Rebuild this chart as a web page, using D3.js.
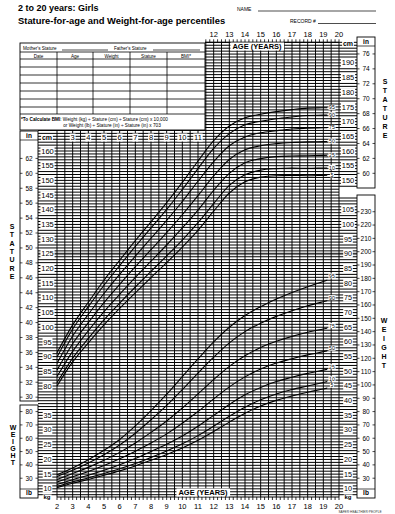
<!DOCTYPE html>
<html>
<head>
<meta charset="utf-8">
<script src="https://cdn.jsdelivr.net/npm/d3@7"></script>
<style>
  body { margin: 0; background: #fff; }
  svg { display: block; font-family: "Liberation Sans", Arial, sans-serif; }
</style>
</head>
<body>
<div id="chart"></div>
<script>
// ages (years) for the percentile curves
const ages = [2, 3, 4, 5, 6, 7, 8, 9, 10, 11, 12, 13, 14, 15, 16, 17, 18, 19, 20];
const percentiles = ['5', '10', '25', '50', '75', '90', '95'];

// stature-for-age (cm)
const stature5  = [80.0, 88.2, 94.7, 100.8, 106.4, 111.7, 116.9, 122.0, 127.3, 133.0, 139.5, 145.7, 149.5, 151.1, 151.6, 151.7, 151.6, 151.7, 151.8];
const stature10 = [81.1, 89.5, 96.2, 102.5, 108.2, 113.7, 119.0, 124.3, 129.7, 135.6, 142.1, 148.3, 151.9, 153.5, 154.0, 154.2, 154.1, 154.2, 154.3];
const stature25 = [83.2, 91.8, 98.8, 105.3, 111.2, 117.0, 122.5, 128.0, 133.8, 139.9, 146.6, 152.4, 156.0, 157.4, 158.1, 158.3, 158.4, 158.5, 158.6];
const stature50 = [85.4, 94.4, 101.6, 108.4, 114.6, 120.6, 126.4, 132.2, 138.3, 144.8, 151.5, 157.1, 160.4, 161.8, 162.5, 162.9, 163.1, 163.2, 163.3];
const stature75 = [87.7, 97.0, 104.4, 111.5, 118.0, 124.2, 130.3, 136.4, 142.8, 149.7, 156.4, 161.8, 164.8, 166.2, 166.9, 167.5, 167.8, 167.9, 168.0];
const stature90 = [89.9, 99.4, 107.0, 114.3, 121.0, 127.5, 133.8, 140.1, 146.9, 154.0, 160.9, 165.9, 168.9, 170.1, 171.0, 171.6, 172.1, 172.2, 172.3];
const stature95 = [91.3, 100.8, 108.5, 116.0, 122.8, 129.5, 135.9, 142.4, 149.3, 156.6, 163.5, 168.5, 171.3, 172.5, 173.4, 174.1, 174.6, 174.7, 174.8];

// weight-for-age (kg)
const weight5  = [10.4, 11.9, 13.2, 14.6, 16.1, 17.8, 19.7, 21.7, 23.9, 26.5, 29.5, 32.7, 35.7, 38.2, 40.1, 41.6, 42.9, 44.0, 45.2];
const weight10 = [10.8, 12.4, 13.7, 15.2, 16.8, 18.6, 20.7, 22.9, 25.3, 28.1, 31.3, 34.7, 37.8, 40.3, 42.3, 43.8, 45.0, 46.2, 47.4];
const weight25 = [11.5, 13.1, 14.6, 16.3, 18.2, 20.3, 22.7, 25.2, 28.0, 31.3, 35.0, 38.7, 42.0, 44.5, 46.5, 48.0, 49.3, 50.4, 51.5];
const weight50 = [12.3, 14.1, 15.9, 17.9, 20.2, 22.8, 25.6, 28.7, 32.3, 36.3, 40.6, 44.7, 48.1, 50.8, 52.8, 54.3, 55.6, 56.7, 57.8];
const weight75 = [13.2, 15.2, 17.3, 19.7, 22.4, 25.6, 29.2, 33.1, 37.5, 42.3, 47.2, 51.7, 55.3, 58.1, 60.2, 61.9, 63.3, 64.4, 65.5];
const weight90 = [14.2, 16.3, 18.8, 21.6, 24.9, 28.9, 33.5, 38.4, 43.8, 49.4, 54.8, 59.7, 63.5, 66.4, 68.7, 70.6, 72.3, 73.7, 75.0];
const weight95 = [14.8, 17.1, 19.9, 23.1, 26.8, 31.4, 36.6, 42.2, 48.2, 54.2, 60.0, 65.0, 69.0, 72.0, 74.6, 76.8, 78.8, 80.6, 82.4];

// tick labels
const topAgeLabels = [12, 13, 14, 15, 16, 17, 18, 19, 20];
const innerAgeLabels = [3, 4, 5, 6, 7, 8, 9, 10, 11];
const bottomAgeLabels = [2, 3, 4, 5, 6, 7, 8, 9, 10, 11, 12, 13, 14, 15, 16, 17, 18, 19, 20];
const leftCm = [160, 155, 150, 145, 140, 135, 130, 125, 120, 115, 110, 105, 100, 95, 90, 85, 80];
const rightCm = [190, 185, 180, 175, 170, 165, 160, 155, 150];
const leftKg = [35, 30, 25, 20, 15, 10];
const rightKg = [105, 100, 95, 90, 85, 80, 75, 70, 65, 60, 55, 50, 45, 40, 35, 30, 25, 20, 15, 10];
const leftIn = [62, 60, 58, 56, 54, 52, 50, 48, 46, 44, 42, 40, 38, 36, 34, 32, 30];
const rightIn = [76, 74, 72, 70, 68, 66, 64, 62, 60];
const leftLb = [80, 70, 60, 50, 40, 30];
const rightLb = [230, 220, 210, 200, 190, 180, 170, 160, 150, 140, 130, 120, 110, 100, 90, 80, 70, 60, 50, 40, 30];
const tableColumns = ['Date', 'Age', 'Weight', 'Stature', 'BMI*'];

const width = 395, height = 514;
const svg = d3.select('#chart').append('svg')
    .attr('width', width)
    .attr('height', height);

svg.append('rect').attr('width', width).attr('height', height).attr('fill', '#fff');

// age -> x, stature cm -> y ; weight axis is the same scale shifted by 35
const x = d3.scaleLinear().domain([2, 20]).range([57, 339]);
const y = d3.scaleLinear().domain([80, 160]).range([386, 151]);
const yKg = kg => y(kg + 35);

const gridTop = y(197);
const gridBottom = 497;
const tableRight = 205, tableBottom = 130;

const grid = svg.append('g');

// gray band at 125 cm / 90 kg
grid.append('line')
    .attr('x1', 38).attr('x2', 357)
    .attr('y1', y(125)).attr('y2', y(125))
    .attr('stroke', '#bdbdbd').attr('stroke-width', 3);

// horizontal lines every cm
d3.range(43, 198).forEach(s => {
    const yy = y(s);
    if (yy > gridBottom + 0.5) return;
    const x1 = yy < tableBottom ? tableRight : 38;
    const x2 = (yy > 189 && yy < 196) ? 339 : 357;
    grid.append('line')
        .attr('x1', x1).attr('x2', x2)
        .attr('y1', yy).attr('y2', yy)
        .attr('stroke', '#000').attr('stroke-width', 1);
});

// vertical lines every half year
d3.range(2, 20.01, 0.5).forEach(a => {
    const xx = x(a);
    grid.append('line')
        .attr('x1', xx).attr('x2', xx)
        .attr('y1', xx < tableRight ? tableBottom : gridTop).attr('y2', gridBottom)
        .attr('stroke', '#000').attr('stroke-width', 0.95);
});

// quarter-year ticks on top and bottom edges
d3.range(2, 20.01, 0.25).forEach(a => {
    const xx = x(a);
    if (xx > tableRight) {
        grid.append('line').attr('x1', xx).attr('x2', xx)
            .attr('y1', gridTop - 3).attr('y2', gridTop)
            .attr('stroke', '#000').attr('stroke-width', 0.8);
    }
    grid.append('line').attr('x1', xx).attr('x2', xx)
        .attr('y1', gridBottom).attr('y2', gridBottom + 3)
        .attr('stroke', '#000').attr('stroke-width', 0.8);
});

grid.append('line').attr('x1', 57).attr('x2', 339).attr('y1', gridBottom).attr('y2', gridBottom)
    .attr('stroke', '#000').attr('stroke-width', 1);
grid.append('line').attr('x1', tableRight).attr('x2', 339).attr('y1', gridTop).attr('y2', gridTop)
    .attr('stroke', '#000').attr('stroke-width', 1);

// text with white box behind it
function boxedText(g, tx, ty, str, size, opts = {}) {
    const t = g.append('text')
        .attr('x', tx).attr('y', ty)
        .attr('text-anchor', opts.anchor || 'middle')
        .attr('font-size', size)
        .attr('font-weight', opts.bold ? 'bold' : 'normal')
        .attr('fill', '#000')
        .text(str);
    const b = t.node().getBBox();
    const pad = opts.pad == null ? 0.8 : opts.pad;
    g.insert('rect', () => t.node())
        .attr('x', b.x - pad).attr('y', b.y + 0.5)
        .attr('width', b.width + pad * 2).attr('height', b.height - 1)
        .attr('fill', '#fff');
    return t;
}

const labels = svg.append('g');

// age labels
topAgeLabels.forEach(a => {
    labels.append('text').attr('x', x(a)).attr('y', 37)
        .attr('text-anchor', 'middle').attr('font-size', 7.5).text(a);
});
innerAgeLabels.forEach(a => boxedText(labels, x(a), 140, a, 7.5));
bottomAgeLabels.forEach(a => {
    labels.append('text').attr('x', x(a)).attr('y', 509)
        .attr('text-anchor', 'middle').attr('font-size', 7.5).text(a);
});

boxedText(labels, 257, 49, 'AGE (YEARS)', 7.5, { bold: true, pad: 2 });
boxedText(labels, 203, 495, 'AGE (YEARS)', 7.5, { bold: true, pad: 2 });

// cm / kg labels in the side columns
boxedText(labels, 47, 140, 'cm', 7, { bold: true });
leftCm.forEach(v => boxedText(labels, 47.5, y(v) + 2.6, v, 7.5));
leftKg.forEach(v => boxedText(labels, 47.5, yKg(v) + 2.4, v, 7.2));
boxedText(labels, 47, 499, 'kg', 6, { bold: true });

boxedText(labels, 348, 46, 'cm', 7, { bold: true });
rightCm.forEach(v => boxedText(labels, 348, y(v) + 2.6, v, 7.5));
rightKg.forEach(v => boxedText(labels, 348, yKg(v) + 2.4, v, 7.2));
boxedText(labels, 348, 499, 'kg', 6, { bold: true });

// inch / pound boxes
function unitBox(x0, x1, y0, y1, head, values, toY, headAtTop) {
    const g = svg.append('g');
    g.append('rect').attr('x', x0).attr('y', y0).attr('width', x1 - x0).attr('height', y1 - y0)
        .attr('fill', '#fff').attr('stroke', '#000').attr('stroke-width', 0.9);
    const cx = (x0 + x1) / 2;
    values.forEach(v => {
        const yy = toY(v);
        g.append('text').attr('x', cx).attr('y', yy + 2.3)
            .attr('text-anchor', 'middle').attr('font-size', 6.5).text(v);
        g.append('line').attr('x1', x0).attr('x2', x0 + 2.5).attr('y1', yy).attr('y2', yy)
            .attr('stroke', '#000').attr('stroke-width', 0.7);
        g.append('line').attr('x1', x1 - 2.5).attr('x2', x1).attr('y1', yy).attr('y2', yy)
            .attr('stroke', '#000').attr('stroke-width', 0.7);
    });
    const hy = headAtTop ? y0 + 7 : y1 - 3;
    g.append('text').attr('x', cx).attr('y', hy)
        .attr('text-anchor', 'middle').attr('font-size', 6.5).attr('font-weight', 'bold').text(head);
    const ly = headAtTop ? y0 + 9 : y1 - 9;
    g.append('line').attr('x1', x0).attr('x2', x1).attr('y1', ly).attr('y2', ly)
        .attr('stroke', '#000').attr('stroke-width', 0.7);
}
unitBox(20, 38, 131, 401, 'in', leftIn, v => y(v * 2.54), true);
unitBox(20, 38, 405, 498, 'lb', leftLb, v => yKg(v * 0.45359237), false);
unitBox(357, 375, 37, 188, 'in', rightIn, v => y(v * 2.54), true);
unitBox(357, 375, 195, 498, 'lb', rightLb, v => yKg(v * 0.45359237), false);

// percentile curves
const statureSeries = [stature5, stature10, stature25, stature50, stature75, stature90, stature95];
const weightSeries = [weight5, weight10, weight25, weight50, weight75, weight90, weight95];

svg.append('clipPath').attr('id', 'curveClip')
    .append('rect').attr('x', 50).attr('y', 0).attr('width', x(19.25) - 50).attr('height', height);

const curves = svg.append('g').attr('clip-path', 'url(#curveClip)');
const statLine = d3.line().x((d, i) => x(ages[i])).y(d => y(d)).curve(d3.curveMonotoneX);
const wtLine = d3.line().x((d, i) => x(ages[i])).y(d => yKg(d)).curve(d3.curveMonotoneX);

statureSeries.forEach(s => {
    curves.append('path').attr('d', statLine(s))
        .attr('fill', 'none').attr('stroke', '#000').attr('stroke-width', 1.1);
});
weightSeries.forEach(s => {
    curves.append('path').attr('d', wtLine(s))
        .attr('fill', 'none').attr('stroke', '#000').attr('stroke-width', 1.1);
});

// percentile labels at the right end
statureSeries.forEach((s, i) => {
    boxedText(labels, x(19.55), y(s[s.length - 1]) + 1.8, percentiles[i], 5.2, { pad: 0.6 });
});
weightSeries.forEach((s, i) => {
    boxedText(labels, x(19.55), yKg(s[s.length - 1]) + 1.8, percentiles[i], 5.2, { pad: 0.6 });
});

// table top-left
const table = svg.append('g');
table.append('rect').attr('x', 20).attr('y', 43).attr('width', tableRight - 20).attr('height', tableBottom - 43)
    .attr('fill', '#fff').attr('stroke', '#000').attr('stroke-width', 0.9);
table.append('text').attr('x', 23).attr('y', 49.5).attr('font-size', 4.6).text("Mother's Stature");
table.append('line').attr('x1', 62).attr('x2', 108).attr('y1', 50).attr('y2', 50).attr('stroke', '#000').attr('stroke-width', 0.7);
table.append('text').attr('x', 114).attr('y', 49.5).attr('font-size', 4.6).text("Father's Stature");
table.append('line').attr('x1', 153).attr('x2', 200).attr('y1', 50).attr('y2', 50).attr('stroke', '#000').attr('stroke-width', 0.7);

const colEdges = [20, 57, 93, 130, 167, 205];
const rowLines = [52, 59, 67, 75, 83, 91, 99, 107, 114];
rowLines.forEach(r => {
    table.append('line').attr('x1', 20).attr('x2', tableRight).attr('y1', r).attr('y2', r)
        .attr('stroke', '#000').attr('stroke-width', 0.8);
});
colEdges.slice(1, -1).forEach(c => {
    table.append('line').attr('x1', c).attr('x2', c).attr('y1', 52).attr('y2', 114)
        .attr('stroke', '#000').attr('stroke-width', 0.8);
});
tableColumns.forEach((name, i) => {
    table.append('text').attr('x', (colEdges[i] + colEdges[i + 1]) / 2).attr('y', 57.5)
        .attr('text-anchor', 'middle').attr('font-size', 4.6).text(name);
});
const bmi1 = table.append('text').attr('x', 21).attr('y', 120.5).attr('font-size', 4.7);
bmi1.append('tspan').attr('font-weight', 'bold').text('*To Calculate BMI');
bmi1.append('tspan').text(': Weight (kg) \u00f7 Stature (cm) \u00f7 Stature (cm) x 10,000');
table.append('text').attr('x', 112).attr('y', 126.5).attr('text-anchor', 'middle').attr('font-size', 4.7)
    .text('or Weight (lb) \u00f7 Stature (in) \u00f7 Stature (in) x 703');

// headings
svg.append('text').attr('x', 18).attr('y', 11).attr('font-size', 9).attr('font-weight', 'bold')
    .text('2 to 20 years: Girls');
svg.append('text').attr('x', 18).attr('y', 23.5).attr('font-size', 9.4).attr('font-weight', 'bold')
    .text('Stature-for-age and Weight-for-age percentiles');
svg.append('text').attr('x', 237).attr('y', 10.5).attr('font-size', 5).text('NAME');
svg.append('line').attr('x1', 258).attr('x2', 376).attr('y1', 11).attr('y2', 11).attr('stroke', '#000').attr('stroke-width', 0.7);
svg.append('text').attr('x', 290).attr('y', 23).attr('font-size', 5).text('RECORD #');
svg.append('line').attr('x1', 318).attr('x2', 376).attr('y1', 23.5).attr('y2', 23.5).attr('stroke', '#000').attr('stroke-width', 0.7);

// vertical side words
function stacked(word, cx, y0, step) {
    word.split('').forEach((ch, i) => {
        svg.append('text').attr('x', cx).attr('y', y0 + i * step)
            .attr('text-anchor', 'middle').attr('font-size', 7).attr('font-weight', 'bold').text(ch);
    });
}
stacked('STATURE', 385, 84, 9);
stacked('WEIGHT', 384, 323, 9);
stacked('STATURE', 12, 229, 8.3);
stacked('WEIGHT', 13, 430, 7);

svg.append('text').attr('x', 360).attr('y', 513).attr('text-anchor', 'middle')
    .attr('font-size', 3.2).attr('fill', '#333').text('SAFER\u00b7HEALTHIER\u00b7PEOPLE');
</script>
</body>
</html>
